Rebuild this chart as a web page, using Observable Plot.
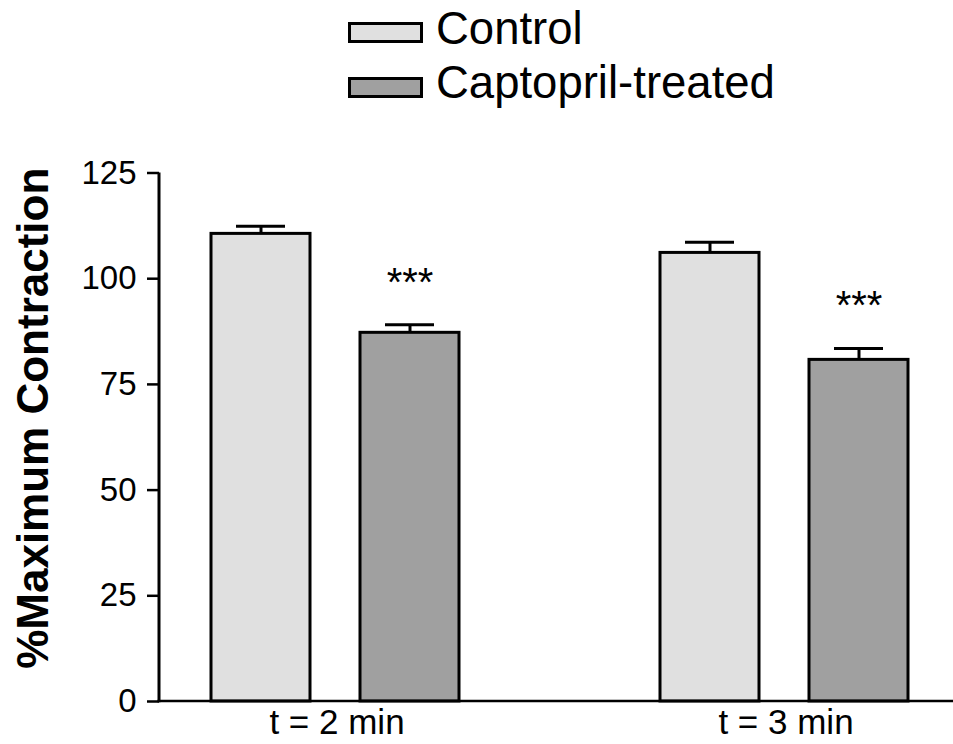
<!DOCTYPE html>
<html>
<head>
<meta charset="utf-8">
<script src="https://cdn.jsdelivr.net/npm/d3@7"></script>
<script src="https://cdn.jsdelivr.net/npm/@observablehq/plot@0.6"></script>
<style>
  html, body { margin: 0; padding: 0; background: #fff; }
  body { width: 953px; height: 744px; overflow: hidden; font-family: "Liberation Sans", Arial, sans-serif; }
  #legend { position: relative; width: 953px; height: 110px; }
  .sw { position: absolute; left: 348px; width: 75px; height: 21px; box-sizing: border-box; border: 3px solid #000; }
  .lab { position: absolute; left: 436px; font-size: 45.5px; line-height: 45.5px; color: #000; white-space: nowrap; }
  #chart svg { display: block; }
</style>
</head>
<body>
<div id="legend"></div>
<div id="chart"></div>
<script>
const groups = ["t = 2 min", "t = 3 min"];
const seriesNames = ["Control", "Captopril-treated"];
const controlMeans = [110.6, 106.1];
const controlSEM = [1.8, 2.5];
const captoprilMeans = [87.2, 80.8];
const captoprilSEM = [1.9, 2.7];
const captoprilSig = ["***", "***"];
const yTicks = [0, 25, 50, 75, 100, 125];
const fillColors = ["#e0e0e0", "#a0a0a0"];
const yTitle = "%Maximum Contraction";

const rows = groups.flatMap((g, i) => [
  {group: g, series: seriesNames[0], mean: controlMeans[i], sem: controlSEM[i], sig: ""},
  {group: g, series: seriesNames[1], mean: captoprilMeans[i], sem: captoprilSEM[i], sig: captoprilSig[i]}
]);
const errTop = d => d.mean + d.sem;

// legend
const legend = document.getElementById("legend");
const swTops = [22, 77];
const labTops = [5.5, 59.5];
seriesNames.forEach((s, i) => {
  const sw = document.createElement("div");
  sw.className = "sw";
  sw.style.top = swTops[i] + "px";
  sw.style.background = fillColors[i];
  legend.appendChild(sw);
  const lb = document.createElement("div");
  lb.className = "lab";
  lb.style.top = labTops[i] + "px";
  lb.textContent = s;
  legend.appendChild(lb);
});

const W = 953, H = 634, ML = 159, MR = 6, MT = 62.5, MB = 43;

const chart = Plot.plot({
  width: W, height: H,
  marginTop: MT, marginBottom: MB, marginLeft: ML, marginRight: MR,
  style: {fontFamily: "'Liberation Sans', Arial, sans-serif", color: "#000", background: "#fff", overflow: "visible"},
  fx: {domain: groups, paddingInner: 0.245, paddingOuter: 0, label: null, axis: null},
  x: {domain: seriesNames, paddingInner: 1/3, paddingOuter: 0.2967, align: 0.573, axis: null},
  y: {domain: [0, 125], axis: null},
  color: {domain: seriesNames, range: fillColors},
  marks: [
    Plot.barY(rows, {fx: "group", x: "series", y: "mean", fill: "series", stroke: "#000", strokeWidth: 3}),
    Plot.ruleX(rows, {fx: "group", x: "series", y1: "mean", y2: errTop, stroke: "#000", strokeWidth: 3}),
    Plot.tickY(rows, {fx: "group", x: "series", y: errTop, stroke: "#000", strokeWidth: 3, insetLeft: 25, insetRight: 25}),
    Plot.text(rows, {fx: "group", x: "series", y: errTop, text: "sig", dy: -29, fontSize: 40, lineAnchor: "bottom", fill: "#000"}),
    Plot.axisY({ticks: yTicks, tickSize: 12, tickPadding: 11, fontSize: 33, strokeWidth: 2.5, label: null}),
    Plot.axisFx({anchor: "bottom", tickSize: 0, tickPadding: 8, fontSize: 35, dx: 8, label: null}),
    Plot.text([yTitle], {fx: [groups[0]], frameAnchor: "left", rotate: -90, dx: -126, dy: -19,
      fontSize: 44, fontWeight: "bold", textAnchor: "middle", lineAnchor: "middle", fill: "#000"})
  ]
});

// axis lines drawn through Plot's own y scale
const ys = chart.scale("y");
const svg = d3.select(chart);
svg.append("line")
  .attr("x1", ML).attr("x2", ML)
  .attr("y1", ys.apply(0) + 1.2).attr("y2", ys.apply(125))
  .attr("stroke", "#000").attr("stroke-width", 3);
svg.append("line")
  .attr("x1", ML - 1.5).attr("x2", W)
  .attr("y1", ys.apply(0)).attr("y2", ys.apply(0))
  .attr("stroke", "#000").attr("stroke-width", 2.5);

document.getElementById("chart").appendChild(chart);
</script>
</body>
</html>
